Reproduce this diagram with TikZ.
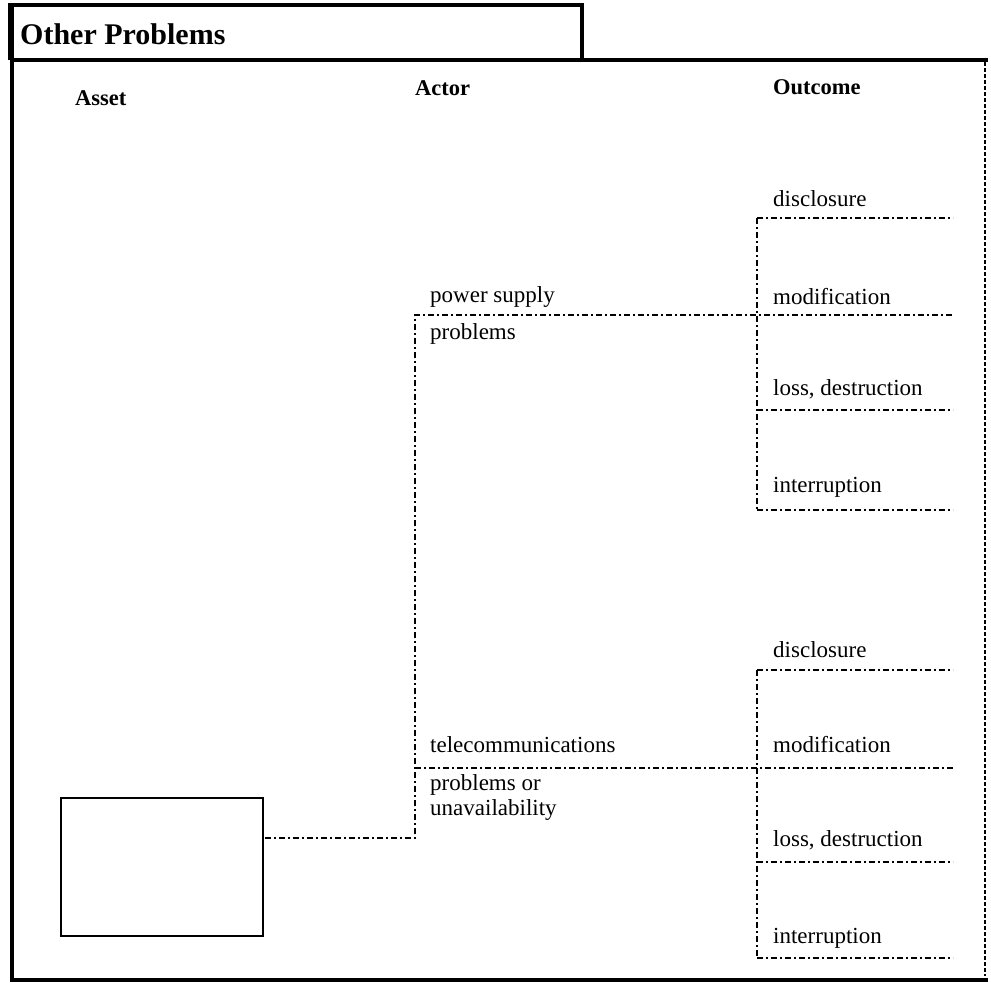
\documentclass[tikz,border=0pt]{standalone}
\usepackage{fontspec}
\setmainfont{Liberation Serif}
\begin{document}
\begin{tikzpicture}[x=1pt,y=-1pt,
  lbl/.style={anchor=west,inner sep=0pt,font=\fontsize{23}{26}\selectfont},
  hdr/.style={anchor=west,inner sep=0pt,font=\fontsize{22.5}{26}\selectfont\bfseries},
  dl/.style={line width=1.5pt,dash pattern=on 6pt off 3pt on 2pt off 3pt},
  frame/.style={line width=3.5pt}]
\useasboundingbox (0,0) rectangle (991,983);
% frame
\draw[frame] (10,60) -- (10,5) -- (582,5) -- (582,60);
\draw[frame] (10,60) -- (988,60);
\draw[frame] (12,5) -- (12,980) -- (988,980);
\draw[line width=1.2pt,dash pattern=on 4pt off 2pt] (985,62) -- (985,976);
\node[anchor=west,inner sep=0pt,font=\fontsize{30}{34}\selectfont\bfseries] (title) at (20,34) {Other Problems};
% headers
\node[hdr] (hasset) at (75,98) {Asset};
\node[hdr] (hactor) at (415,88) {Actor};
\node[hdr] (hout) at (773,87) {Outcome};
% asset box
\node[draw,line width=1.5pt,minimum width=202pt,minimum height=138pt,anchor=north west,inner sep=0pt] (asset) at (60,797) {};
% coordinates
\coordinate (a1) at (265,838);
\coordinate (j) at (415,838);
\coordinate (p1) at (415,315);
\coordinate (t1) at (415,768);
\coordinate (e1) at (953,315);
\coordinate (e2) at (953,768);
% actor lines
\draw[dl] (a1) -- (j) -- (p1) -- (e1);
\draw[dl] (t1) -- (e2);
\node[lbl] (ps) at (430,297) {power supply};
\node[lbl] (pr) at (430,334) {problems};
\node[lbl] (tc) at (430,745) {telecommunications};
\node[lbl] (po) at (430,785) {problems or};
\node[lbl] (un) at (430,810) {unavailability};
% outcome group 1
\coordinate (g1a) at (757,218);
\coordinate (g1d) at (757,510);
\draw[dl] (g1a) -- (g1d);
\draw[dl] (g1a) -- (953,218);
\draw[dl] (757,410) -- (953,410);
\draw[dl] (g1d) -- (953,510);
\node[lbl] (d1) at (773,199) {disclosure};
\node[lbl] (m1) at (773,297) {modification};
\node[lbl] (l1) at (773,389) {loss, destruction};
\node[lbl] (i1) at (773,487) {interruption};
% outcome group 2
\coordinate (g2a) at (757,670);
\coordinate (g2d) at (757,958);
\draw[dl] (g2a) -- (g2d);
\draw[dl] (g2a) -- (953,670);
\draw[dl] (757,862) -- (953,862);
\draw[dl] (g2d) -- (953,958);
\node[lbl] (d2) at (773,650) {disclosure};
\node[lbl] (m2) at (773,745) {modification};
\node[lbl] (l2) at (773,840) {loss, destruction};
\node[lbl] (i2) at (773,938) {interruption};
\end{tikzpicture}
\end{document}
